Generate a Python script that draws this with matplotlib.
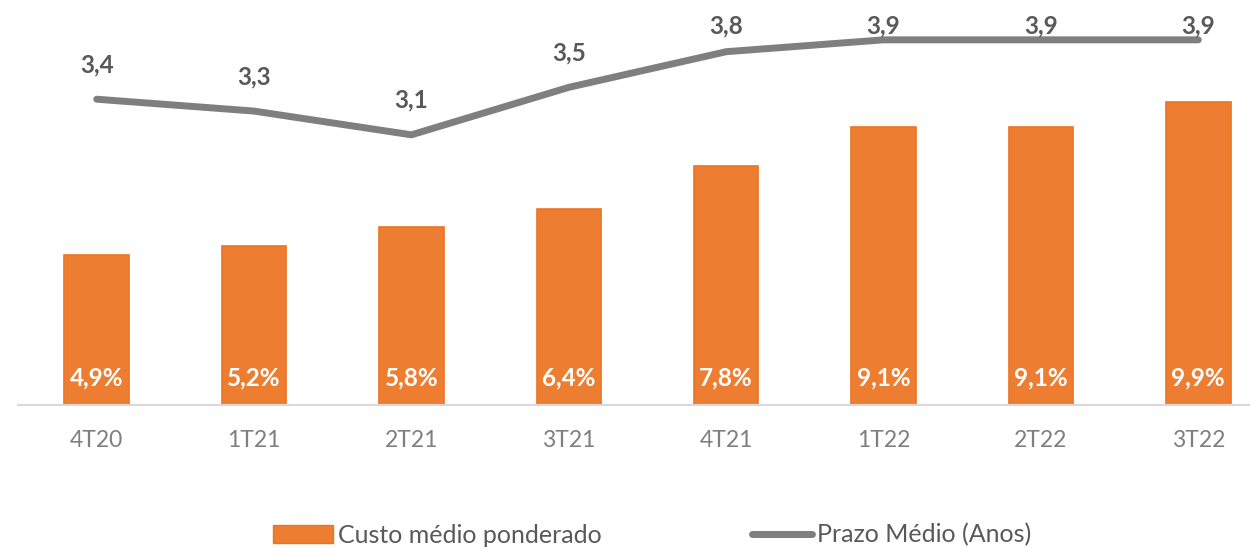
import matplotlib
matplotlib.use("Agg")
import matplotlib.pyplot as plt
from matplotlib.patches import Patch
from matplotlib.lines import Line2D

plt.rcParams['font.family'] = ['Lato', 'DejaVu Sans']

quarters = ['4T20', '1T21', '2T21', '3T21', '4T21', '1T22', '2T22', '3T22']
custo = [4.9, 5.2, 5.8, 6.4, 7.8, 9.1, 9.1, 9.9]
prazo = [3.4, 3.3, 3.1, 3.5, 3.8, 3.9, 3.9, 3.9]

orange = '#ED7D31'
gray_line = '#7F7F7F'

fig = plt.figure(figsize=(12.5, 5.48), dpi=100)
# axes slightly wider than the figure, like the cropped Excel chart
ax = fig.add_axes([18 / 1250, 143 / 548, 1259 / 1250, 385 / 548])
x = list(range(len(quarters)))

ax.bar(x, custo, width=0.41, color=orange, edgecolor='#EE7422', linewidth=1.2, zorder=2)
ax.set_xlim(-0.5, len(quarters) - 0.5)
ax.set_ylim(0, 12.58)
ax.set_xticks(x)
ax.set_xticklabels(quarters, fontsize=16.5, color='#7F7F7F')
ax.tick_params(axis='x', length=0, pad=18)
ax.set_yticks([])
for s in ['top', 'right', 'left']:
    ax.spines[s].set_visible(False)
ax.spines['bottom'].set_color('#D9D9D9')
ax.spines['bottom'].set_linewidth(1.5)

for i, v in enumerate(custo):
    ax.annotate(f"{v:.1f}%".replace('.', ','), (i, 0), xytext=(0, 19.5),
                textcoords='offset points', ha='center', va='center',
                color='white', fontsize=17.5, fontweight='bold', zorder=3)

ax2 = ax.twinx()
ax2.plot(x, prazo, color=gray_line, linewidth=5, solid_capstyle='round',
         solid_joinstyle='round', zorder=3)
ax2.set_ylim(0.825, 4.067)
ax2.set_yticks([])
for s in ax2.spines.values():
    s.set_visible(False)

for i, v in enumerate(prazo):
    ly = min(v + 0.29, 4.02)
    ax2.text(i, ly, f"{v:.1f}".replace('.', ','), ha='center', va='center',
             color='#595959', fontsize=17.5, fontweight='bold')

handles = [Patch(facecolor=orange, edgecolor='#EE7422', label='Custo médio ponderado'),
           Line2D([0], [0], color=gray_line, linewidth=5, solid_capstyle='round',
                  label='Prazo Médio (Anos)')]
fig.legend(handles=handles, loc='center', bbox_to_anchor=(652 / 1250, 1 - 535 / 548),
           ncol=2, frameon=False, fontsize=18, handlelength=2.4, handleheight=0.75,
           handletextpad=0.2, columnspacing=6.0, labelcolor='#595959')

fig.savefig('out.png', dpi=100)
